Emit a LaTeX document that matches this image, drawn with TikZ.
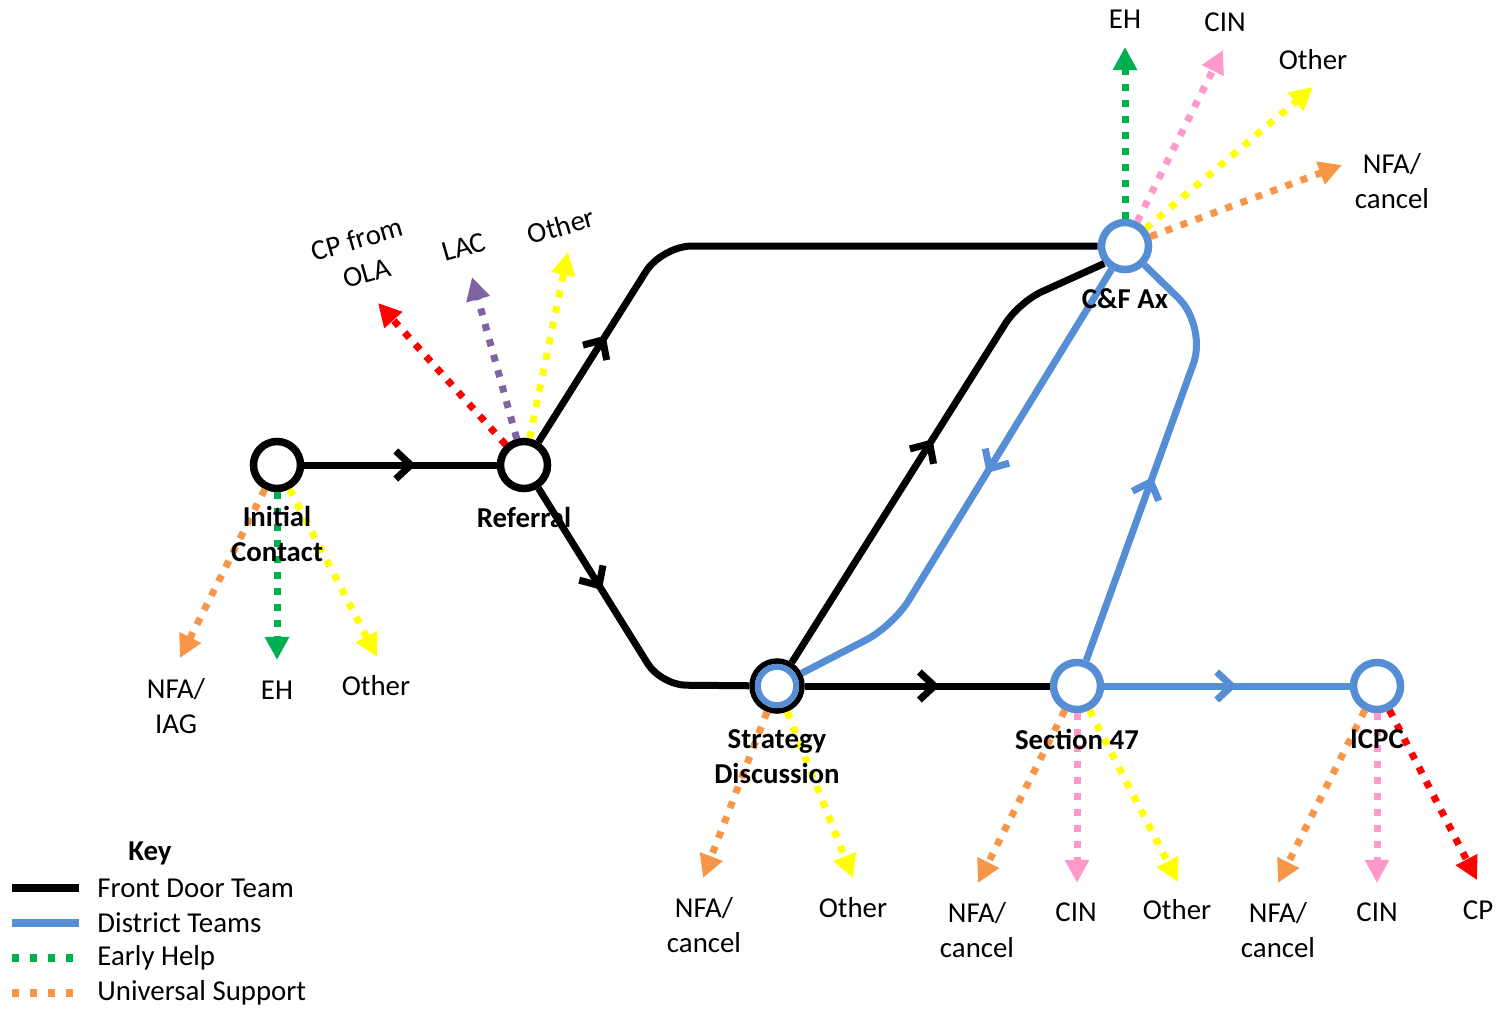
\documentclass[tikz,border=0pt]{standalone}
\usepackage{fontspec}
\setmainfont{Carlito}
\usetikzlibrary{arrows.meta,decorations.markings}

\definecolor{dblue}{RGB}{85,142,213}
\definecolor{ehgreen}{RGB}{0,176,80}
\definecolor{usorange}{RGB}{247,150,70}
\definecolor{othyellow}{RGB}{255,255,0}
\definecolor{cinpink}{RGB}{255,153,204}
\definecolor{cpred}{RGB}{255,0,0}
\definecolor{lacpurple}{RGB}{128,100,162}

\newcommand\mapfont{\fontsize{8.2}{10}\selectfont}

\tikzset{
  stop/.style={circle, minimum size=0.47cm, inner sep=0pt, line width=0.075cm, fill=white},
  team/.style={line width=0.07cm},
  midarrow/.style={postaction={decorate, decoration={markings,
      mark=at position #1 with {\arrow{Straight Barb[length=0.15cm,width=0.28cm]}}}}},
  outflow/.style={line width=0.07cm, dash pattern=on 0.07cm off 0.09cm,
      -{Triangle[length=0.23cm,width=0.23cm]}},
  keyline/.style={line width=0.08cm, shorten >=0.06cm},
  stopname/.style={font=\mapfont\bfseries, align=center},
  outname/.style={font=\mapfont, align=center}
}

\begin{document}
\begin{tikzpicture}[x=0.01cm, y=-0.01cm]
  \useasboundingbox (0,0) rectangle (1503,1009);
  %%%%% STOPS %%%%%
  \node[stop, draw=black] (init) at (277,465) {};
  \node[stop, draw=black] (ref) at (524,465) {};
  \node[stop, draw=black, line width=0.055cm, minimum size=0.5cm] (strat) at (777,686) {};
  \draw[dblue, line width=0.06cm] (strat.center) circle (0.192cm);
  \node[stop, draw=dblue] (s47) at (1077,686) {};
  \node[stop, draw=dblue] (icpc) at (1377,686) {};
  \node[stop, draw=dblue] (cfax) at (1125,246) {};

  %%%%% FRONT DOOR TEAM %%%%%
  \draw[team, midarrow=0.58] (init) -- (ref);
  \draw[team, rounded corners=0.3cm, midarrow=0.19] (ref) -- (662,246) -- (cfax);
  \draw[team, rounded corners=0.25cm, midarrow=0.38] (ref) -- (661,685) -- (strat);
  \draw[team, midarrow=0.55] (strat) -- (s47);
  \draw[team, rounded corners=0.25cm, midarrow=0.51] (strat) -- (1019,302) -- (cfax.220);

  %%%%% DISTRICT TEAMS %%%%%
  \draw[team, dblue, rounded corners=0.3cm, midarrow=0.46] (cfax.240) -- (893,626) -- (strat);
  \draw[team, dblue, rounded corners=0.4cm, midarrow=0.45] (s47) -- (1207,326) -- (cfax);
  \draw[team, dblue, midarrow=0.54] (s47) -- (icpc);

  %%%%% OUTCOMES %%%%%
  \coordinate (init-nfa) at (180,658);
  \coordinate (init-eh) at (277,660);
  \coordinate (init-oth) at (377,657);
  \draw[outflow, usorange] (init) -- (init-nfa);
  \draw[outflow, ehgreen] (init) -- (init-eh);
  \draw[outflow, othyellow] (init) -- (init-oth);

  \coordinate (ref-cp) at (378,303);
  \coordinate (ref-lac) at (472,277);
  \coordinate (ref-oth) at (568,252);
  \draw[outflow, cpred] (ref) -- (ref-cp);
  \draw[outflow, lacpurple] (ref) -- (ref-lac);
  \draw[outflow, othyellow] (ref) -- (ref-oth);

  \coordinate (cf-eh) at (1125,47);
  \coordinate (cf-cin) at (1223,50);
  \coordinate (cf-oth) at (1313,87);
  \coordinate (cf-nfa) at (1342,165);
  \draw[outflow, ehgreen] (cfax) -- (cf-eh);
  \draw[outflow, cinpink] (cfax) -- (cf-cin);
  \draw[outflow, othyellow] (cfax) -- (cf-oth);
  \draw[outflow, usorange] (cfax) -- (cf-nfa);

  \coordinate (sd-nfa) at (703,878);
  \coordinate (sd-oth) at (853,878);
  \draw[outflow, usorange] (strat) -- (sd-nfa);
  \draw[outflow, othyellow] (strat) -- (sd-oth);

  \coordinate (s47-nfa) at (978,883);
  \coordinate (s47-cin) at (1077,883);
  \coordinate (s47-oth) at (1178,882);
  \draw[outflow, usorange] (s47) -- (s47-nfa);
  \draw[outflow, cinpink] (s47) -- (s47-cin);
  \draw[outflow, othyellow] (s47) -- (s47-oth);

  \coordinate (icpc-nfa) at (1278,883);
  \coordinate (icpc-cin) at (1377,883);
  \coordinate (icpc-cp) at (1477,880);
  \draw[outflow, usorange] (icpc) -- (icpc-nfa);
  \draw[outflow, cinpink] (icpc) -- (icpc-cin);
  \draw[outflow, cpred] (icpc) -- (icpc-cp);

  %%%%% LABELS %%%%%
  \node[stopname] (init-l) at (277,534) {Initial\\Contact};
  \node[stopname] (ref-l) at (524,517) {Referral};
  \node[stopname] (strat-l) at (777,757) {Strategy\\Discussion};
  \node[stopname] (s47-l) at (1077,739) {Section 47};
  \node[stopname] (icpc-l) at (1377,739) {ICPC};
  \node[stopname] (cfax-l) at (1125,299) {C\&F Ax};

  \node[outname] (init-nfa-l) at (176,706) {NFA/\\IAG};
  \node[outname] (init-eh-l) at (277,690) {EH};
  \node[outname] (init-oth-l) at (376,686) {Other};

  \node[outname, rotate=16] (ref-cp-l) at (362,256) {CP from\\OLA};
  \node[outname, rotate=16] (ref-lac-l) at (464,247) {LAC};
  \node[outname, rotate=16] (ref-oth-l) at (561,226) {Other};

  \node[outname] (cf-eh-l) at (1125,19) {EH};
  \node[outname] (cf-cin-l) at (1225,22) {CIN};
  \node[outname] (cf-oth-l) at (1313,60) {Other};
  \node[outname] (cf-nfa-l) at (1392,181) {NFA/\\cancel};

  \node[outname] (sd-nfa-l) at (704,925) {NFA/\\cancel};
  \node[outname] (sd-oth-l) at (853,908) {Other};

  \node[outname] (s47-nfa-l) at (977,930) {NFA/\\cancel};
  \node[outname] (s47-cin-l) at (1076,912) {CIN};
  \node[outname] (s47-oth-l) at (1177,910) {Other};

  \node[outname] (icpc-nfa-l) at (1278,930) {NFA/\\cancel};
  \node[outname] (icpc-cin-l) at (1377,912) {CIN};
  \node[outname] (icpc-cp-l) at (1478,910) {CP};

  %%%%% KEY %%%%%
  \node[stopname] (key) at (150,853) {Key};
  \node[outname, anchor=west] (key-fd) at (85,888) {Front Door Team};
  \node[outname, anchor=west] (key-dt) at (85,923) {District Teams};
  \node[outname, anchor=west] (key-eh) at (85,958) {Early Help};
  \node[outname, anchor=west] (key-us) at (85,993) {Universal Support};
  \coordinate (key-fd-a) at (12,888);
  \coordinate (key-dt-a) at (12,923);
  \coordinate (key-eh-a) at (12,958);
  \coordinate (key-us-a) at (12,993);
  \draw[keyline] (key-fd-a) -- (key-fd);
  \draw[keyline, dblue] (key-dt-a) -- (key-dt);
  \draw[keyline, ehgreen, dash pattern=on 0.07cm off 0.11cm] (key-eh-a) -- (key-eh);
  \draw[keyline, usorange, dash pattern=on 0.07cm off 0.11cm] (key-us-a) -- (key-us);
\end{tikzpicture}
\end{document}
